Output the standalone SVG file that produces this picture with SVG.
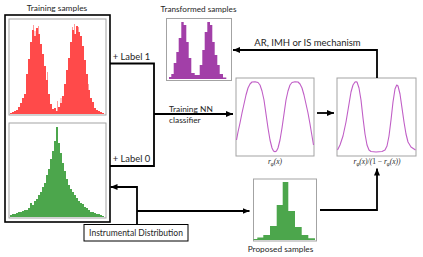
<svg xmlns="http://www.w3.org/2000/svg" width="423" height="257" viewBox="0 0 423 257">
<style>
.t{font-family:Lato,"Liberation Sans",Arial,sans-serif;fill:#262626}
.m{font-family:"Liberation Serif","Times New Roman",serif;font-style:italic;fill:#262626}
.frame{fill:#fff;stroke:#a3a3a3;stroke-width:1}
.curve{fill:none;stroke:#c05ec6;stroke-width:1.1;stroke-linejoin:round}
.con{fill:none;stroke:#000;stroke-width:1.8}
</style>
<defs>
<marker id="ah" markerUnits="userSpaceOnUse" markerWidth="7" markerHeight="6" refX="7" refY="3" orient="auto">
<path d="M0,0 L7,3 L0,6 Z" fill="#000"/>
</marker>
</defs>
<rect width="423" height="257" fill="#fff"/>

<g id="training-samples">
<text class="t" x="57" y="11" font-size="8.4" text-anchor="middle">Training samples</text>
<rect x="5" y="15" width="105" height="207" fill="none" stroke="#000" stroke-width="1.6"/>
<g id="red-hist">
<rect class="frame" x="9" y="19" width="97" height="96"/>
<path fill="#ff4a4a" d="M10,114 V113 H12 V112 H14 V111 H16 V110 H18 V107 H20 V103 H22 V98 H24 V94 H26 V74 H28 V59 H30 V42 H32 V30 H34 V36 H36 V28 H38 V34 H40 V44 H42 V54 H44 V66 H46 V80 H48 V94 H50 V104 H52 V109 H54 V108 H56 V111 H58 V107 H60 V103 H62 V96 H64 V84 H66 V70 H68 V58 H70 V42 H72 V30 H74 V34 H76 V26 H78 V32 H80 V36 H82 V46 H84 V60 H86 V74 H88 V90 H90 V98 H92 V102 H94 V108 H96 V110 H98 V111 H100 V112 H102 V113 H104 V114 Z"/>
<path fill="none" stroke="#ff9a9a" stroke-width="1" d="M33.5,30 V25 M38.5,34 V26 M35,36 V31 M74.5,34 V24 M78.5,32 V27 M72.5,30 V27 M47.5,80 V72 M57.5,111 V101 M61,103 V98 M88.5,90 V84"/>
</g>
<g id="green-hist">
<rect class="frame" x="9" y="123" width="97" height="95"/>
<path fill="#4ca64c" d="M10,217 V215 H12 V214 H16 V213 H18 V212 H22 V211 H24 V210 H28 V208 H30 V203 H32 V205 H34 V201 H36 V199 H38 V195 H40 V192 H42 V187 H44 V183 H46 V175 H48 V169 H50 V159 H52 V151 H54 V141 H56 V127 H58 V143 H60 V153 H62 V163 H64 V171 H66 V179 H68 V185 H70 V189 H72 V192 H74 V195 H76 V198 H78 V201 H80 V203 H82 V204 H84 V207 H86 V208 H88 V210 H90 V212 H94 V213 H96 V214 H100 V215 H102 V216 H104 V217 Z"/>
</g>
</g>

<g id="transformed-samples">
<text class="t" x="198.5" y="12" font-size="8.2" text-anchor="middle">Transformed samples</text>
<rect class="frame" x="166.5" y="18.5" width="65" height="62"/>
<path fill="#a23fa8" d="M169,79 V77 H171.3 V74 H173.7 V63 H176.3 V52 H178.7 V38 H181.3 V22 H183.7 V25 H186.3 V42 H188.7 V58 H191.3 V73 H194.7 V75 H199.7 V65 H202.3 V50 H204.7 V32 H207.3 V22 H210 V25 H212.3 V42 H214.7 V55 H217.3 V65 H219.7 V74 H223 V77.5 H226.3 V79 Z"/>
</g>

<g id="r-phi">
<rect class="frame" x="236" y="78" width="78" height="78"/>
<polyline class="curve" points="236.5,140 238,132 240,123 242,113 244,104 246,95 248,88 250,84 252,82 255,81.7 258,82.5 260,85 262,91 264,100 266,114 268,128 270,140 272,148 273.5,151 275,151.7 276.5,151 278,148 280,140 282,128 284,114 286,100 288,91 290,85 292,82.5 295,81.7 298,82 300,84 302,88 304,95 306,104 308,113 310,124 312,136 313.5,145"/>
<text class="m" x="275" y="164" font-size="7.5" text-anchor="middle">r<tspan font-size="5.2" dy="1.5">φ</tspan><tspan dy="-1.5">(x)</tspan></text>
</g>

<g id="ratio">
<rect class="frame" x="337" y="78" width="79" height="78"/>
<polyline class="curve" points="337.5,150 340,145 343,136 346,122 349,104 351,92 353,85 355,82 356,81.7 357,82 359,88 361,100 363,118 365,134 367,145 369,150 371,151.5 376,152 382,151.5 385,150 387,146 389,136 391,120 393,102 395,89 396.7,85 398,86 400,94 402,108 404,122 406,134 408,142 411,147 415.5,150"/>
<text class="m" x="377" y="164" font-size="7.5" text-anchor="middle">r<tspan font-size="5.2" dy="1.5">φ</tspan><tspan dy="-1.5">(x)/(</tspan><tspan font-style="normal">1 − </tspan>r<tspan font-size="5.2" dy="1.5">φ</tspan><tspan dy="-1.5">(x))</tspan></text>
</g>

<g id="proposed-samples">
<rect class="frame" x="253.5" y="179" width="63" height="62"/>
<path fill="#4ca64c" d="M253.5,240 V239 H257.3 V237.5 H263.3 V235 H270 V226 H276.7 V205 H282.7 V182 H288.3 V211 H295 V227 H301.7 V235 H308.3 V238.3 H315 V240 Z"/>
<text class="t" x="280.5" y="251.5" font-size="8.3" text-anchor="middle">Proposed samples</text>
</g>

<g id="instrumental">
<rect x="84" y="224.5" width="104" height="16.5" fill="#fff" stroke="#000" stroke-width="1"/>
<text class="t" x="136" y="236" font-size="8.5" text-anchor="middle">Instrumental Distribution</text>
</g>

<g id="connectors">
<path class="con" d="M110,63.5 H154 V166 H110"/>
<path class="con" d="M154,114 H233" marker-end="url(#ah)"/>
<path class="con" d="M317,113 H334" marker-end="url(#ah)"/>
<path class="con" d="M377,78 V50 H233" marker-end="url(#ah)"/>
<path class="con" d="M137,224.5 V187 H110.5" marker-end="url(#ah)"/>
<path class="con" d="M137,211 H249.5" marker-end="url(#ah)"/>
<path class="con" d="M320,210 H377 V168.5" marker-end="url(#ah)"/>
<text class="t" x="112.7" y="60" font-size="9.4">+ Label 1</text>
<text class="t" x="112.7" y="162" font-size="9.4">+ Label 0</text>
<text class="t" x="169" y="111.5" font-size="8.4">Training NN</text>
<text class="t" x="169" y="123" font-size="8.4">classifier</text>
<text class="t" x="307.5" y="45.5" font-size="9.5" text-anchor="middle">AR, IMH or IS mechanism</text>
</g>
</svg>
